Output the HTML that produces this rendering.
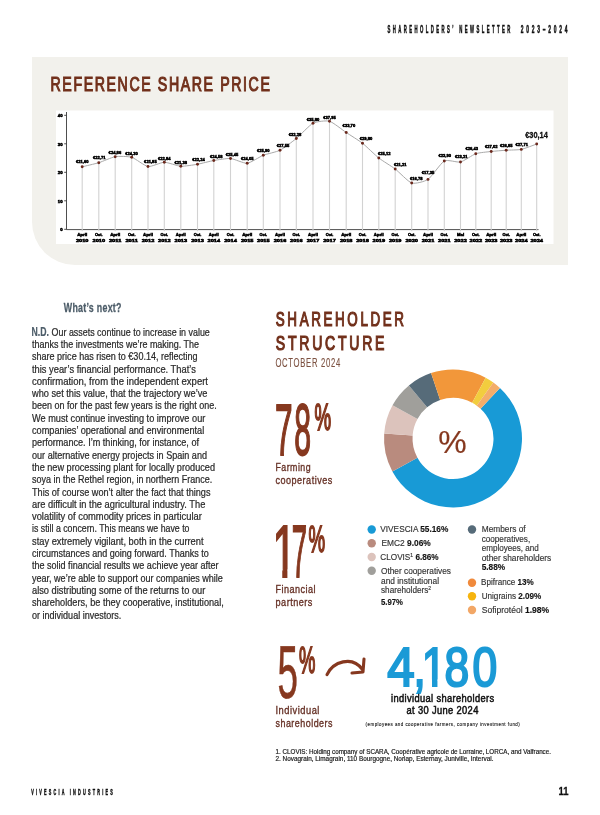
<!DOCTYPE html>
<html lang="en"><head><meta charset="utf-8"><title>Shareholders' newsletter</title>
<style>
html,body{margin:0;padding:0;background:#fff;width:600px;height:815px;overflow:hidden}
svg{display:block;font-family:"Liberation Sans",sans-serif}
.cl{font-size:4.3px;font-weight:bold;fill:#000;stroke:#000;stroke-width:.5px}
</style></head>
<body>
<svg width="600" height="815" viewBox="0 0 600 815">
<text x="387.6" y="32.6" font-size="10.6" fill="#111" font-weight="bold" textLength="125.2" lengthAdjust="spacingAndGlyphs" letter-spacing="6" stroke="#111" stroke-width="0.55">SHAREHOLDERS’ NEWSLETTER</text>
<text x="520.8" y="32.6" font-size="10.6" fill="#111" font-weight="bold" textLength="49.4" lengthAdjust="spacingAndGlyphs" letter-spacing="6" stroke="#111" stroke-width="0.55">2023–2024</text>
<path d="M32,57 H568 V265 H75 A43,43 0 0 1 32,222 Z" fill="#f2f1ec"/>
<rect x="56" y="110.5" width="497.5" height="133.5" fill="#fff"/>
<g transform="translate(50.5,91) scale(1,1.45)"><text x="0" y="0" font-size="13.4" font-weight="normal" fill="#71301b" letter-spacing="1.5" stroke="#71301b" stroke-width="0.75" textLength="221" lengthAdjust="spacingAndGlyphs">REFERENCE SHARE PRICE</text></g>
<line x1="66.5" y1="112" x2="66.5" y2="229.6" stroke="#3a3a3a" stroke-width="0.9"/>
<line x1="66.5" y1="229.6" x2="538.5" y2="229.6" stroke="#3a3a3a" stroke-width="0.9"/>
<line x1="64.2" y1="229.30" x2="66.5" y2="229.30" stroke="#3a3a3a" stroke-width="0.9"/>
<text class="cl" x="62.6" y="231.20" text-anchor="end">0</text>
<line x1="64.2" y1="200.80" x2="66.5" y2="200.80" stroke="#3a3a3a" stroke-width="0.9"/>
<text class="cl" x="62.6" y="202.70" text-anchor="end">10</text>
<line x1="64.2" y1="172.30" x2="66.5" y2="172.30" stroke="#3a3a3a" stroke-width="0.9"/>
<text class="cl" x="62.6" y="174.20" text-anchor="end">20</text>
<line x1="64.2" y1="143.80" x2="66.5" y2="143.80" stroke="#3a3a3a" stroke-width="0.9"/>
<text class="cl" x="62.6" y="145.70" text-anchor="end">30</text>
<line x1="64.2" y1="115.30" x2="66.5" y2="115.30" stroke="#3a3a3a" stroke-width="0.9"/>
<text class="cl" x="62.6" y="117.20" text-anchor="end">40</text>
<line x1="82.2" y1="166.8" x2="82.2" y2="231.3" stroke="#d2d2d2" stroke-width="1.1"/>
<line x1="98.8" y1="162.7" x2="98.8" y2="231.3" stroke="#d2d2d2" stroke-width="1.1"/>
<line x1="115.2" y1="156.7" x2="115.2" y2="231.3" stroke="#d2d2d2" stroke-width="1.1"/>
<line x1="131.7" y1="157.3" x2="131.7" y2="231.3" stroke="#d2d2d2" stroke-width="1.1"/>
<line x1="148" y1="166.5" x2="148" y2="231.3" stroke="#d2d2d2" stroke-width="1.1"/>
<line x1="164.3" y1="162.25" x2="164.3" y2="231.3" stroke="#d2d2d2" stroke-width="1.1"/>
<line x1="180.8" y1="166.25" x2="180.8" y2="231.3" stroke="#d2d2d2" stroke-width="1.1"/>
<line x1="197.5" y1="164.25" x2="197.5" y2="231.3" stroke="#d2d2d2" stroke-width="1.1"/>
<line x1="213.8" y1="160.5" x2="213.8" y2="231.3" stroke="#d2d2d2" stroke-width="1.1"/>
<line x1="230.5" y1="158.5" x2="230.5" y2="231.3" stroke="#d2d2d2" stroke-width="1.1"/>
<line x1="247.2" y1="163.25" x2="247.2" y2="231.3" stroke="#d2d2d2" stroke-width="1.1"/>
<line x1="263.3" y1="155.25" x2="263.3" y2="231.3" stroke="#d2d2d2" stroke-width="1.1"/>
<line x1="280" y1="150.25" x2="280" y2="231.3" stroke="#d2d2d2" stroke-width="1.1"/>
<line x1="296.3" y1="138.5" x2="296.3" y2="231.3" stroke="#d2d2d2" stroke-width="1.1"/>
<line x1="313" y1="123.25" x2="313" y2="231.3" stroke="#d2d2d2" stroke-width="1.1"/>
<line x1="329.5" y1="121.25" x2="329.5" y2="231.3" stroke="#d2d2d2" stroke-width="1.1"/>
<line x1="346.2" y1="132.5" x2="346.2" y2="231.3" stroke="#d2d2d2" stroke-width="1.1"/>
<line x1="362.5" y1="143.25" x2="362.5" y2="231.3" stroke="#d2d2d2" stroke-width="1.1"/>
<line x1="378.8" y1="158" x2="378.8" y2="231.3" stroke="#d2d2d2" stroke-width="1.1"/>
<line x1="395.2" y1="169" x2="395.2" y2="231.3" stroke="#d2d2d2" stroke-width="1.1"/>
<line x1="411.7" y1="183" x2="411.7" y2="231.3" stroke="#d2d2d2" stroke-width="1.1"/>
<line x1="428" y1="179.4" x2="428" y2="231.3" stroke="#d2d2d2" stroke-width="1.1"/>
<line x1="444.3" y1="161" x2="444.3" y2="231.3" stroke="#d2d2d2" stroke-width="1.1"/>
<line x1="460.5" y1="162" x2="460.5" y2="231.3" stroke="#d2d2d2" stroke-width="1.1"/>
<line x1="475.8" y1="153.7" x2="475.8" y2="231.3" stroke="#d2d2d2" stroke-width="1.1"/>
<line x1="491.2" y1="151.5" x2="491.2" y2="231.3" stroke="#d2d2d2" stroke-width="1.1"/>
<line x1="506.2" y1="150.2" x2="506.2" y2="231.3" stroke="#d2d2d2" stroke-width="1.1"/>
<line x1="521.3" y1="149.4" x2="521.3" y2="231.3" stroke="#d2d2d2" stroke-width="1.1"/>
<line x1="536.7" y1="144" x2="536.7" y2="231.3" stroke="#d2d2d2" stroke-width="1.1"/>
<path d="M82.2,166.8 C83.86,166.39 95.50,163.71 98.8,162.7 C102.10,161.69 111.91,157.24 115.2,156.7 C118.49,156.16 128.42,156.32 131.7,157.3 C134.98,158.28 144.74,166.00 148,166.5 C151.26,167.00 161.02,162.28 164.3,162.25 C167.58,162.22 177.48,166.05 180.8,166.25 C184.12,166.45 194.20,164.82 197.5,164.25 C200.80,163.68 210.50,161.07 213.8,160.5 C217.10,159.93 227.16,158.22 230.5,158.5 C233.84,158.78 243.92,163.57 247.2,163.25 C250.48,162.93 260.02,156.55 263.3,155.25 C266.58,153.95 276.70,151.93 280,150.25 C283.30,148.57 293.00,141.20 296.3,138.5 C299.60,135.80 309.68,124.97 313,123.25 C316.32,121.53 326.18,120.33 329.5,121.25 C332.82,122.17 342.90,130.30 346.2,132.5 C349.50,134.70 359.24,140.70 362.5,143.25 C365.76,145.80 375.53,155.43 378.8,158 C382.07,160.57 391.91,166.50 395.2,169 C398.49,171.50 408.42,181.96 411.7,183 C414.98,184.04 424.74,181.60 428,179.4 C431.26,177.20 441.05,162.74 444.3,161 C447.55,159.26 457.35,162.73 460.5,162 C463.65,161.27 472.73,154.75 475.8,153.7 C478.87,152.65 488.16,151.85 491.2,151.5 C494.24,151.15 503.19,150.41 506.2,150.2 C509.21,149.99 518.25,150.02 521.3,149.4 C524.35,148.78 535.16,144.54 536.7,144" fill="none" stroke="#a9a9a9" stroke-width="1"/>
<circle cx="82.2" cy="166.8" r="1.45" fill="#6b281c"/>
<circle cx="98.8" cy="162.7" r="1.45" fill="#6b281c"/>
<circle cx="115.2" cy="156.7" r="1.45" fill="#6b281c"/>
<circle cx="131.7" cy="157.3" r="1.45" fill="#6b281c"/>
<circle cx="148" cy="166.5" r="1.45" fill="#6b281c"/>
<circle cx="164.3" cy="162.25" r="1.45" fill="#6b281c"/>
<circle cx="180.8" cy="166.25" r="1.45" fill="#6b281c"/>
<circle cx="197.5" cy="164.25" r="1.45" fill="#6b281c"/>
<circle cx="213.8" cy="160.5" r="1.45" fill="#6b281c"/>
<circle cx="230.5" cy="158.5" r="1.45" fill="#6b281c"/>
<circle cx="247.2" cy="163.25" r="1.45" fill="#6b281c"/>
<circle cx="263.3" cy="155.25" r="1.45" fill="#6b281c"/>
<circle cx="280" cy="150.25" r="1.45" fill="#6b281c"/>
<circle cx="296.3" cy="138.5" r="1.45" fill="#6b281c"/>
<circle cx="313" cy="123.25" r="1.45" fill="#6b281c"/>
<circle cx="329.5" cy="121.25" r="1.45" fill="#6b281c"/>
<circle cx="346.2" cy="132.5" r="1.45" fill="#6b281c"/>
<circle cx="362.5" cy="143.25" r="1.45" fill="#6b281c"/>
<circle cx="378.8" cy="158" r="1.45" fill="#6b281c"/>
<circle cx="395.2" cy="169" r="1.45" fill="#6b281c"/>
<circle cx="411.7" cy="183" r="1.45" fill="#6b281c"/>
<circle cx="428" cy="179.4" r="1.45" fill="#6b281c"/>
<circle cx="444.3" cy="161" r="1.45" fill="#6b281c"/>
<circle cx="460.5" cy="162" r="1.45" fill="#6b281c"/>
<circle cx="475.8" cy="153.7" r="1.45" fill="#6b281c"/>
<circle cx="491.2" cy="151.5" r="1.45" fill="#6b281c"/>
<circle cx="506.2" cy="150.2" r="1.45" fill="#6b281c"/>
<circle cx="521.3" cy="149.4" r="1.45" fill="#6b281c"/>
<circle cx="536.7" cy="144" r="1.45" fill="#6b281c"/>
<text class="cl" x="82.20" y="163.25" text-anchor="middle" textLength="12.6" lengthAdjust="spacingAndGlyphs">€21,60</text>
<text class="cl" x="99.20" y="159.35" text-anchor="middle" textLength="12.6" lengthAdjust="spacingAndGlyphs">€22,71</text>
<text class="cl" x="114.90" y="153.75" text-anchor="middle" textLength="12.6" lengthAdjust="spacingAndGlyphs">€24,86</text>
<text class="cl" x="131.50" y="154.55" text-anchor="middle" textLength="12.6" lengthAdjust="spacingAndGlyphs">€24,30</text>
<text class="cl" x="150.40" y="163.25" text-anchor="middle" textLength="12.6" lengthAdjust="spacingAndGlyphs">€21,85</text>
<text class="cl" x="164.30" y="159.55" text-anchor="middle" textLength="12.6" lengthAdjust="spacingAndGlyphs">€22,84</text>
<text class="cl" x="180.80" y="163.55" text-anchor="middle" textLength="12.6" lengthAdjust="spacingAndGlyphs">€21,38</text>
<text class="cl" x="198.50" y="160.80" text-anchor="middle" textLength="12.6" lengthAdjust="spacingAndGlyphs">€22,24</text>
<text class="cl" x="216.30" y="157.80" text-anchor="middle" textLength="12.6" lengthAdjust="spacingAndGlyphs">€24,58</text>
<text class="cl" x="232.00" y="155.80" text-anchor="middle" textLength="12.6" lengthAdjust="spacingAndGlyphs">€25,45</text>
<text class="cl" x="247.20" y="159.55" text-anchor="middle" textLength="12.6" lengthAdjust="spacingAndGlyphs">€24,05</text>
<text class="cl" x="263.30" y="152.30" text-anchor="middle" textLength="12.6" lengthAdjust="spacingAndGlyphs">€25,90</text>
<text class="cl" x="283.00" y="147.05" text-anchor="middle" textLength="12.6" lengthAdjust="spacingAndGlyphs">€27,55</text>
<text class="cl" x="295.00" y="136.05" text-anchor="middle" textLength="12.6" lengthAdjust="spacingAndGlyphs">€32,28</text>
<text class="cl" x="313.00" y="120.80" text-anchor="middle" textLength="12.6" lengthAdjust="spacingAndGlyphs">€35,80</text>
<text class="cl" x="329.50" y="118.55" text-anchor="middle" textLength="12.6" lengthAdjust="spacingAndGlyphs">€37,95</text>
<text class="cl" x="348.90" y="126.55" text-anchor="middle" textLength="12.6" lengthAdjust="spacingAndGlyphs">€33,70</text>
<text class="cl" x="366.00" y="139.80" text-anchor="middle" textLength="12.6" lengthAdjust="spacingAndGlyphs">€29,80</text>
<text class="cl" x="384.30" y="154.55" text-anchor="middle" textLength="12.6" lengthAdjust="spacingAndGlyphs">€25,12</text>
<text class="cl" x="400.20" y="165.80" text-anchor="middle" textLength="12.6" lengthAdjust="spacingAndGlyphs">€21,21</text>
<text class="cl" x="416.20" y="179.55" text-anchor="middle" textLength="12.6" lengthAdjust="spacingAndGlyphs">€16,78</text>
<text class="cl" x="428.00" y="173.95" text-anchor="middle" textLength="12.6" lengthAdjust="spacingAndGlyphs">€17,35</text>
<text class="cl" x="444.80" y="156.55" text-anchor="middle" textLength="12.6" lengthAdjust="spacingAndGlyphs">€23,90</text>
<text class="cl" x="461.20" y="157.55" text-anchor="middle" textLength="12.6" lengthAdjust="spacingAndGlyphs">€23,21</text>
<text class="cl" x="471.80" y="149.65" text-anchor="middle" textLength="12.6" lengthAdjust="spacingAndGlyphs">€26,43</text>
<text class="cl" x="491.20" y="147.85" text-anchor="middle" textLength="12.6" lengthAdjust="spacingAndGlyphs">€27,02</text>
<text class="cl" x="506.20" y="146.65" text-anchor="middle" textLength="12.6" lengthAdjust="spacingAndGlyphs">€26,85</text>
<text class="cl" x="521.80" y="145.75" text-anchor="middle" textLength="12.6" lengthAdjust="spacingAndGlyphs">€27,71</text>
<text x="525.2" y="138.2" font-size="8.6" fill="#111" font-weight="bold" textLength="22.6" lengthAdjust="spacingAndGlyphs" stroke="#111" stroke-width="0.3">€30,14</text>
<text class="cl" x="82.2" y="236.4" text-anchor="middle" textLength="10" lengthAdjust="spacingAndGlyphs">April</text>
<text class="cl" x="82.2" y="242.3" text-anchor="middle" textLength="12.6" lengthAdjust="spacingAndGlyphs">2010</text>
<text class="cl" x="98.8" y="236.4" text-anchor="middle" textLength="7.6" lengthAdjust="spacingAndGlyphs">Oct.</text>
<text class="cl" x="98.8" y="242.3" text-anchor="middle" textLength="12.6" lengthAdjust="spacingAndGlyphs">2010</text>
<text class="cl" x="115.2" y="236.4" text-anchor="middle" textLength="10" lengthAdjust="spacingAndGlyphs">April</text>
<text class="cl" x="115.2" y="242.3" text-anchor="middle" textLength="12.6" lengthAdjust="spacingAndGlyphs">2011</text>
<text class="cl" x="131.7" y="236.4" text-anchor="middle" textLength="7.6" lengthAdjust="spacingAndGlyphs">Oct.</text>
<text class="cl" x="131.7" y="242.3" text-anchor="middle" textLength="12.6" lengthAdjust="spacingAndGlyphs">2011</text>
<text class="cl" x="148" y="236.4" text-anchor="middle" textLength="10" lengthAdjust="spacingAndGlyphs">April</text>
<text class="cl" x="148" y="242.3" text-anchor="middle" textLength="12.6" lengthAdjust="spacingAndGlyphs">2012</text>
<text class="cl" x="164.3" y="236.4" text-anchor="middle" textLength="7.6" lengthAdjust="spacingAndGlyphs">Oct.</text>
<text class="cl" x="164.3" y="242.3" text-anchor="middle" textLength="12.6" lengthAdjust="spacingAndGlyphs">2012</text>
<text class="cl" x="180.8" y="236.4" text-anchor="middle" textLength="10" lengthAdjust="spacingAndGlyphs">April</text>
<text class="cl" x="180.8" y="242.3" text-anchor="middle" textLength="12.6" lengthAdjust="spacingAndGlyphs">2013</text>
<text class="cl" x="197.5" y="236.4" text-anchor="middle" textLength="7.6" lengthAdjust="spacingAndGlyphs">Oct.</text>
<text class="cl" x="197.5" y="242.3" text-anchor="middle" textLength="12.6" lengthAdjust="spacingAndGlyphs">2013</text>
<text class="cl" x="213.8" y="236.4" text-anchor="middle" textLength="10" lengthAdjust="spacingAndGlyphs">April</text>
<text class="cl" x="213.8" y="242.3" text-anchor="middle" textLength="12.6" lengthAdjust="spacingAndGlyphs">2014</text>
<text class="cl" x="230.5" y="236.4" text-anchor="middle" textLength="7.6" lengthAdjust="spacingAndGlyphs">Oct.</text>
<text class="cl" x="230.5" y="242.3" text-anchor="middle" textLength="12.6" lengthAdjust="spacingAndGlyphs">2014</text>
<text class="cl" x="247.2" y="236.4" text-anchor="middle" textLength="10" lengthAdjust="spacingAndGlyphs">April</text>
<text class="cl" x="247.2" y="242.3" text-anchor="middle" textLength="12.6" lengthAdjust="spacingAndGlyphs">2015</text>
<text class="cl" x="263.3" y="236.4" text-anchor="middle" textLength="7.6" lengthAdjust="spacingAndGlyphs">Oct.</text>
<text class="cl" x="263.3" y="242.3" text-anchor="middle" textLength="12.6" lengthAdjust="spacingAndGlyphs">2015</text>
<text class="cl" x="280" y="236.4" text-anchor="middle" textLength="10" lengthAdjust="spacingAndGlyphs">April</text>
<text class="cl" x="280" y="242.3" text-anchor="middle" textLength="12.6" lengthAdjust="spacingAndGlyphs">2016</text>
<text class="cl" x="296.3" y="236.4" text-anchor="middle" textLength="7.6" lengthAdjust="spacingAndGlyphs">Oct.</text>
<text class="cl" x="296.3" y="242.3" text-anchor="middle" textLength="12.6" lengthAdjust="spacingAndGlyphs">2016</text>
<text class="cl" x="313" y="236.4" text-anchor="middle" textLength="10" lengthAdjust="spacingAndGlyphs">April</text>
<text class="cl" x="313" y="242.3" text-anchor="middle" textLength="12.6" lengthAdjust="spacingAndGlyphs">2017</text>
<text class="cl" x="329.5" y="236.4" text-anchor="middle" textLength="7.6" lengthAdjust="spacingAndGlyphs">Oct.</text>
<text class="cl" x="329.5" y="242.3" text-anchor="middle" textLength="12.6" lengthAdjust="spacingAndGlyphs">2017</text>
<text class="cl" x="346.2" y="236.4" text-anchor="middle" textLength="10" lengthAdjust="spacingAndGlyphs">April</text>
<text class="cl" x="346.2" y="242.3" text-anchor="middle" textLength="12.6" lengthAdjust="spacingAndGlyphs">2018</text>
<text class="cl" x="362.5" y="236.4" text-anchor="middle" textLength="7.6" lengthAdjust="spacingAndGlyphs">Oct.</text>
<text class="cl" x="362.5" y="242.3" text-anchor="middle" textLength="12.6" lengthAdjust="spacingAndGlyphs">2018</text>
<text class="cl" x="378.8" y="236.4" text-anchor="middle" textLength="10" lengthAdjust="spacingAndGlyphs">April</text>
<text class="cl" x="378.8" y="242.3" text-anchor="middle" textLength="12.6" lengthAdjust="spacingAndGlyphs">2019</text>
<text class="cl" x="395.2" y="236.4" text-anchor="middle" textLength="7.6" lengthAdjust="spacingAndGlyphs">Oct.</text>
<text class="cl" x="395.2" y="242.3" text-anchor="middle" textLength="12.6" lengthAdjust="spacingAndGlyphs">2019</text>
<text class="cl" x="411.7" y="236.4" text-anchor="middle" textLength="7.6" lengthAdjust="spacingAndGlyphs">Oct.</text>
<text class="cl" x="411.7" y="242.3" text-anchor="middle" textLength="12.6" lengthAdjust="spacingAndGlyphs">2020</text>
<text class="cl" x="428" y="236.4" text-anchor="middle" textLength="10" lengthAdjust="spacingAndGlyphs">April</text>
<text class="cl" x="428" y="242.3" text-anchor="middle" textLength="12.6" lengthAdjust="spacingAndGlyphs">2021</text>
<text class="cl" x="444.3" y="236.4" text-anchor="middle" textLength="7.6" lengthAdjust="spacingAndGlyphs">Oct.</text>
<text class="cl" x="444.3" y="242.3" text-anchor="middle" textLength="12.6" lengthAdjust="spacingAndGlyphs">2021</text>
<text class="cl" x="460.5" y="236.4" text-anchor="middle" textLength="7.2" lengthAdjust="spacingAndGlyphs">Mai</text>
<text class="cl" x="460.5" y="242.3" text-anchor="middle" textLength="12.6" lengthAdjust="spacingAndGlyphs">2022</text>
<text class="cl" x="475.8" y="236.4" text-anchor="middle" textLength="7.6" lengthAdjust="spacingAndGlyphs">Oct.</text>
<text class="cl" x="475.8" y="242.3" text-anchor="middle" textLength="12.6" lengthAdjust="spacingAndGlyphs">2022</text>
<text class="cl" x="491.2" y="236.4" text-anchor="middle" textLength="10" lengthAdjust="spacingAndGlyphs">April</text>
<text class="cl" x="491.2" y="242.3" text-anchor="middle" textLength="12.6" lengthAdjust="spacingAndGlyphs">2023</text>
<text class="cl" x="506.2" y="236.4" text-anchor="middle" textLength="7.6" lengthAdjust="spacingAndGlyphs">Oct.</text>
<text class="cl" x="506.2" y="242.3" text-anchor="middle" textLength="12.6" lengthAdjust="spacingAndGlyphs">2023</text>
<text class="cl" x="521.3" y="236.4" text-anchor="middle" textLength="10" lengthAdjust="spacingAndGlyphs">April</text>
<text class="cl" x="521.3" y="242.3" text-anchor="middle" textLength="12.6" lengthAdjust="spacingAndGlyphs">2024</text>
<text class="cl" x="536.7" y="236.4" text-anchor="middle" textLength="7.6" lengthAdjust="spacingAndGlyphs">Oct.</text>
<text class="cl" x="536.7" y="242.3" text-anchor="middle" textLength="12.6" lengthAdjust="spacingAndGlyphs">2024</text>
<text x="63.8" y="311.7" font-size="13.6" fill="#4d5d69" font-weight="bold" textLength="57.9" lengthAdjust="spacingAndGlyphs" stroke="#4d5d69" stroke-width="0.3" letter-spacing="0.4">What’s next?</text>
<text x="31.6" y="335.7" font-size="12.8" fill="#4d5d69" font-weight="bold" textLength="17.4" lengthAdjust="spacingAndGlyphs" stroke="#4d5d69" stroke-width="0.2">N.D.</text>
<text x="51.6" y="335.60" font-size="10.2" fill="#2a2a2a" textLength="158.2" lengthAdjust="spacingAndGlyphs" stroke="#2a2a2a" stroke-width="0.22">Our assets continue to increase in value</text>
<text x="32" y="347.90" font-size="10.2" fill="#2a2a2a" textLength="167.0" lengthAdjust="spacingAndGlyphs" stroke="#2a2a2a" stroke-width="0.22">thanks the investments we’re making. The</text>
<text x="32" y="360.20" font-size="10.2" fill="#2a2a2a" textLength="165.6" lengthAdjust="spacingAndGlyphs" stroke="#2a2a2a" stroke-width="0.22">share price has risen to €30.14, reflecting</text>
<text x="32" y="372.50" font-size="10.2" fill="#2a2a2a" textLength="163.8" lengthAdjust="spacingAndGlyphs" stroke="#2a2a2a" stroke-width="0.22">this year’s financial performance. That’s</text>
<text x="32" y="384.80" font-size="10.2" fill="#2a2a2a" textLength="176.0" lengthAdjust="spacingAndGlyphs" stroke="#2a2a2a" stroke-width="0.22">confirmation, from the independent expert</text>
<text x="32" y="397.10" font-size="10.2" fill="#2a2a2a" textLength="175.4" lengthAdjust="spacingAndGlyphs" stroke="#2a2a2a" stroke-width="0.22">who set this value, that the trajectory we’ve</text>
<text x="32" y="409.40" font-size="10.2" fill="#2a2a2a" textLength="184.8" lengthAdjust="spacingAndGlyphs" stroke="#2a2a2a" stroke-width="0.22">been on for the past few years is the right one.</text>
<text x="32" y="421.70" font-size="10.2" fill="#2a2a2a" textLength="173.3" lengthAdjust="spacingAndGlyphs" stroke="#2a2a2a" stroke-width="0.22">We must continue investing to improve our</text>
<text x="32" y="434.00" font-size="10.2" fill="#2a2a2a" textLength="172.2" lengthAdjust="spacingAndGlyphs" stroke="#2a2a2a" stroke-width="0.22">companies’ operational and environmental</text>
<text x="32" y="446.30" font-size="10.2" fill="#2a2a2a" textLength="167.0" lengthAdjust="spacingAndGlyphs" stroke="#2a2a2a" stroke-width="0.22">performance. I’m thinking, for instance, of</text>
<text x="32" y="458.60" font-size="10.2" fill="#2a2a2a" textLength="175.0" lengthAdjust="spacingAndGlyphs" stroke="#2a2a2a" stroke-width="0.22">our alternative energy projects in Spain and</text>
<text x="32" y="470.90" font-size="10.2" fill="#2a2a2a" textLength="183.0" lengthAdjust="spacingAndGlyphs" stroke="#2a2a2a" stroke-width="0.22">the new processing plant for locally produced</text>
<text x="32" y="483.20" font-size="10.2" fill="#2a2a2a" textLength="180.3" lengthAdjust="spacingAndGlyphs" stroke="#2a2a2a" stroke-width="0.22">soya in the Rethel region, in northern France.</text>
<text x="32" y="495.50" font-size="10.2" fill="#2a2a2a" textLength="178.5" lengthAdjust="spacingAndGlyphs" stroke="#2a2a2a" stroke-width="0.22">This of course won’t alter the fact that things</text>
<text x="32" y="507.80" font-size="10.2" fill="#2a2a2a" textLength="173.3" lengthAdjust="spacingAndGlyphs" stroke="#2a2a2a" stroke-width="0.22">are difficult in the agricultural industry. The</text>
<text x="32" y="520.10" font-size="10.2" fill="#2a2a2a" textLength="169.8" lengthAdjust="spacingAndGlyphs" stroke="#2a2a2a" stroke-width="0.22">volatility of commodity prices in particular</text>
<text x="32" y="532.40" font-size="10.2" fill="#2a2a2a" textLength="157.5" lengthAdjust="spacingAndGlyphs" stroke="#2a2a2a" stroke-width="0.22">is still a concern. This means we have to</text>
<text x="32" y="544.70" font-size="10.2" fill="#2a2a2a" textLength="171.5" lengthAdjust="spacingAndGlyphs" stroke="#2a2a2a" stroke-width="0.22">stay extremely vigilant, both in the current</text>
<text x="32" y="557.00" font-size="10.2" fill="#2a2a2a" textLength="176.8" lengthAdjust="spacingAndGlyphs" stroke="#2a2a2a" stroke-width="0.22">circumstances and going forward. Thanks to</text>
<text x="32" y="569.30" font-size="10.2" fill="#2a2a2a" textLength="186.6" lengthAdjust="spacingAndGlyphs" stroke="#2a2a2a" stroke-width="0.22">the solid financial results we achieve year after</text>
<text x="32" y="581.60" font-size="10.2" fill="#2a2a2a" textLength="190.8" lengthAdjust="spacingAndGlyphs" stroke="#2a2a2a" stroke-width="0.22">year, we’re able to support our companies while</text>
<text x="32" y="593.90" font-size="10.2" fill="#2a2a2a" textLength="173.3" lengthAdjust="spacingAndGlyphs" stroke="#2a2a2a" stroke-width="0.22">also distributing some of the returns to our</text>
<text x="32" y="606.20" font-size="10.2" fill="#2a2a2a" textLength="191.8" lengthAdjust="spacingAndGlyphs" stroke="#2a2a2a" stroke-width="0.22">shareholders, be they cooperative, institutional,</text>
<text x="32" y="618.50" font-size="10.2" fill="#2a2a2a" textLength="89.3" lengthAdjust="spacingAndGlyphs" stroke="#2a2a2a" stroke-width="0.22">or individual investors.</text>
<g transform="translate(275.8,326.4) scale(1,1.45)"><text x="0" y="0" font-size="13.4" font-weight="normal" fill="#71301b" letter-spacing="2.6" stroke="#71301b" stroke-width="0.8" textLength="130.8" lengthAdjust="spacingAndGlyphs">SHAREHOLDER</text></g>
<g transform="translate(275.8,349.5) scale(1,1.45)"><text x="0" y="0" font-size="13.4" font-weight="normal" fill="#71301b" letter-spacing="2.6" stroke="#71301b" stroke-width="0.8" textLength="111.4" lengthAdjust="spacingAndGlyphs">STRUCTURE</text></g>
<text x="275.4" y="366.8" font-size="13.1" fill="#7d5242" textLength="65.6" lengthAdjust="spacingAndGlyphs" letter-spacing="1.2" stroke="#7d5242" stroke-width="0.15">OCTOBER 2024</text>
<path d="M499.97,387.95 A69,69 0 1 1 392.38,471.45 L417.42,457.84 A40.5,40.5 0 1 0 480.57,408.83 Z" fill="#189ad6"/>
<path d="M392.38,471.45 A69,69 0 0 1 384.18,433.58 L412.60,435.61 A40.5,40.5 0 0 0 417.42,457.84 Z" fill="#b98b7e"/>
<path d="M384.18,433.58 A69,69 0 0 1 392.53,405.27 L417.51,419.00 A40.5,40.5 0 0 0 412.60,435.61 Z" fill="#dcc3bc"/>
<path d="M392.53,405.27 A69,69 0 0 1 408.91,385.43 L427.12,407.35 A40.5,40.5 0 0 0 417.51,419.00 Z" fill="#a09f9b"/>
<path d="M408.91,385.43 A69,69 0 0 1 431.05,373.09 L440.11,400.10 A40.5,40.5 0 0 0 427.12,407.35 Z" fill="#566b79"/>
<path d="M431.05,373.09 A69,69 0 0 1 485.66,377.72 L472.17,402.82 A40.5,40.5 0 0 0 440.11,400.10 Z" fill="#f2973a"/>
<path d="M485.66,377.72 A69,69 0 0 1 493.33,382.52 L476.67,405.64 A40.5,40.5 0 0 0 472.17,402.82 Z" fill="#f2cd3e"/>
<path d="M493.33,382.52 A69,69 0 0 1 499.97,387.95 L480.57,408.83 A40.5,40.5 0 0 0 476.67,405.64 Z" fill="#f3ad6a"/>
<text x="438.2" y="452.6" font-size="31" fill="#86381f" textLength="28.4" lengthAdjust="spacingAndGlyphs" stroke="#86381f" stroke-width="0.2">%</text>
<text y="455.2" font-size="73" fill="#86381f" stroke="#86381f" stroke-width="1.9"><tspan x="275.1" textLength="17.6" lengthAdjust="spacingAndGlyphs">7</tspan><tspan x="294.2" textLength="16.8" lengthAdjust="spacingAndGlyphs">8</tspan></text>
<text x="314.6" y="429.6" font-size="36" fill="#86381f" textLength="16.6" lengthAdjust="spacingAndGlyphs" stroke="#86381f" stroke-width="1.9">%</text>
<text x="275.5" y="471.4" font-size="11.2" fill="#663126" textLength="35.6" lengthAdjust="spacingAndGlyphs" stroke="#663126" stroke-width="0.35" letter-spacing="0.6">Farming</text>
<text x="275.5" y="484.3" font-size="11.2" fill="#663126" textLength="57.2" lengthAdjust="spacingAndGlyphs" stroke="#663126" stroke-width="0.35" letter-spacing="0.6">cooperatives</text>
<text y="576.8" font-size="74" fill="#86381f" stroke="#86381f" stroke-width="1.9"><tspan x="272.55" textLength="23.7" lengthAdjust="spacingAndGlyphs">1</tspan><tspan x="291.7" textLength="15.3" lengthAdjust="spacingAndGlyphs">7</tspan></text>
<path d="M274.5,569.5h7.75v8.8h-7.75zM287.4,569.5h7.6v8.8h-7.6z" fill="#fff"/>
<text x="308.6" y="551.6" font-size="37" fill="#86381f" textLength="16.6" lengthAdjust="spacingAndGlyphs" stroke="#86381f" stroke-width="1.9">%</text>
<text x="275.5" y="592.8" font-size="11.2" fill="#663126" textLength="40.5" lengthAdjust="spacingAndGlyphs" stroke="#663126" stroke-width="0.35" letter-spacing="0.6">Financial</text>
<text x="275.5" y="605.7" font-size="11.2" fill="#663126" textLength="37.4" lengthAdjust="spacingAndGlyphs" stroke="#663126" stroke-width="0.35" letter-spacing="0.6">partners</text>
<text x="277.6" y="698.4" font-size="74" fill="#86381f" textLength="20.4" lengthAdjust="spacingAndGlyphs" stroke="#86381f" stroke-width="0.7">5</text>
<text x="299" y="672.8" font-size="37" fill="#86381f" textLength="16.4" lengthAdjust="spacingAndGlyphs" stroke="#86381f" stroke-width="1.9">%</text>
<text x="275.5" y="714" font-size="11.2" fill="#663126" textLength="44.4" lengthAdjust="spacingAndGlyphs" stroke="#663126" stroke-width="0.35" letter-spacing="0.6">Individual</text>
<text x="275.5" y="726.6" font-size="11.2" fill="#663126" textLength="57.5" lengthAdjust="spacingAndGlyphs" stroke="#663126" stroke-width="0.35" letter-spacing="0.6">shareholders</text>
<path d="M327,674.6 C333,662 352,655 362.5,669.5" fill="none" stroke="#86381f" stroke-width="3.1" stroke-linecap="round"/>
<path d="M364,659 L363,672 L352,673" fill="none" stroke="#86381f" stroke-width="3.1" stroke-linecap="round" stroke-linejoin="round"/>
<text y="686.4" font-size="54.6" fill="#1b9ad6" stroke="#1b9ad6" stroke-width="2.2"><tspan x="387.2" textLength="27.4" lengthAdjust="spacingAndGlyphs">4</tspan><tspan x="413.4" textLength="12.2" lengthAdjust="spacingAndGlyphs">,</tspan><tspan x="421.8" textLength="24.5" lengthAdjust="spacingAndGlyphs">1</tspan><tspan x="444.4" textLength="24.7" lengthAdjust="spacingAndGlyphs">8</tspan><tspan x="472.4" textLength="24.7" lengthAdjust="spacingAndGlyphs">0</tspan></text>
<path d="M423,679.4h9.0v8.8h-9.0zM437.45,679.4h7.7v8.8h-7.7z" fill="#fff"/>
<text x="391" y="701.9" font-size="10.4" fill="#111" textLength="103.6" lengthAdjust="spacingAndGlyphs" stroke="#111" stroke-width="0.5" letter-spacing="0.4">individual shareholders</text>
<text x="406.5" y="714.1" font-size="10.4" fill="#111" textLength="72.2" lengthAdjust="spacingAndGlyphs" stroke="#111" stroke-width="0.5" letter-spacing="0.4">at 30 June 2024</text>
<text x="365.6" y="726.2" font-size="5.6" fill="#222" textLength="154.6" lengthAdjust="spacingAndGlyphs" stroke="#222" stroke-width="0.15" letter-spacing="0.6">(employees and cooperative farmers, company investment fund)</text>
<circle cx="371.7" cy="529.5" r="4.2" fill="#189ad6"/>
<text x="380.3" y="532.2" font-size="8.2" fill="#333" textLength="68" lengthAdjust="spacingAndGlyphs" stroke="#333" stroke-width="0.15">VIVESCIA <tspan font-weight="bold" fill="#111">55.16%</tspan></text>
<circle cx="371.7" cy="543.3" r="4.2" fill="#b98b7e"/>
<text x="381.5" y="545.8" font-size="8.2" fill="#333" textLength="49.3" lengthAdjust="spacingAndGlyphs" stroke="#333" stroke-width="0.15">EMC2 <tspan font-weight="bold" fill="#111">9.06%</tspan></text>
<circle cx="371.7" cy="557" r="4.2" fill="#dcc3bc"/>
<text x="380.3" y="559.7" font-size="8.2" fill="#333" stroke="#333" stroke-width="0.15">CLOVIS<tspan font-size="5" dy="-3">1</tspan> <tspan dy="3" font-weight="bold" fill="#111">6.86%</tspan></text>
<circle cx="371.7" cy="570.8" r="4.2" fill="#a09f9b"/>
<text x="381" y="573.8" font-size="8.2" fill="#333" textLength="70" lengthAdjust="spacingAndGlyphs" stroke="#333" stroke-width="0.15">Other cooperatives</text>
<text x="381" y="583.6" font-size="8.2" fill="#333" textLength="58" lengthAdjust="spacingAndGlyphs" stroke="#333" stroke-width="0.15">and institutional</text>
<text x="381" y="593.2" font-size="8.2" fill="#333" stroke="#333" stroke-width="0.15">shareholders<tspan font-size="5" dy="-3">2</tspan></text>
<text x="381" y="604.7" font-size="8.2" fill="#111" font-weight="bold" textLength="22" lengthAdjust="spacingAndGlyphs" stroke="#333" stroke-width="0.15">5.97%</text>
<circle cx="472" cy="529.5" r="4.2" fill="#566b79"/>
<text x="481.7" y="532.2" font-size="8.2" fill="#333" textLength="44" lengthAdjust="spacingAndGlyphs" stroke="#333" stroke-width="0.15">Members of</text>
<text x="481.7" y="541.6" font-size="8.2" fill="#333" textLength="48.5" lengthAdjust="spacingAndGlyphs" stroke="#333" stroke-width="0.15">cooperatives,</text>
<text x="481.7" y="551" font-size="8.2" fill="#333" textLength="57" lengthAdjust="spacingAndGlyphs" stroke="#333" stroke-width="0.15">employees, and</text>
<text x="481.7" y="560.5" font-size="8.2" fill="#333" textLength="69.6" lengthAdjust="spacingAndGlyphs" stroke="#333" stroke-width="0.15">other shareholders</text>
<text x="481.7" y="569.9" font-size="8.2" fill="#111" font-weight="bold" textLength="23.5" lengthAdjust="spacingAndGlyphs" stroke="#333" stroke-width="0.15">5.88%</text>
<circle cx="472" cy="582.8" r="4.2" fill="#f08a3c"/>
<text x="481" y="585.3" font-size="8.2" fill="#333" textLength="52.7" lengthAdjust="spacingAndGlyphs" stroke="#333" stroke-width="0.15">Bpifrance <tspan font-weight="bold" fill="#111">13%</tspan></text>
<circle cx="472" cy="596.2" r="4.2" fill="#f6b40e"/>
<text x="481.7" y="598.8" font-size="8.2" fill="#333" textLength="59.6" lengthAdjust="spacingAndGlyphs" stroke="#333" stroke-width="0.15">Unigrains <tspan font-weight="bold" fill="#111">2.09%</tspan></text>
<circle cx="472" cy="610" r="4.2" fill="#f2a766"/>
<text x="481.7" y="612.8" font-size="8.2" fill="#333" textLength="67.5" lengthAdjust="spacingAndGlyphs" stroke="#333" stroke-width="0.15">Sofiprotéol <tspan font-weight="bold" fill="#111">1.98%</tspan></text>
<text x="275.5" y="753.8" font-size="6.3" fill="#1a1a1a" textLength="275.5" lengthAdjust="spacingAndGlyphs" stroke="#1a1a1a" stroke-width="0.18">1. CLOVIS: Holding company of SCARA, Coopérative agricole de Lorraine, LORCA, and Valfrance.</text>
<text x="275.5" y="761.3" font-size="6.3" fill="#1a1a1a" textLength="218" lengthAdjust="spacingAndGlyphs" stroke="#1a1a1a" stroke-width="0.18">2. Novagrain, Limagrain, 110 Bourgogne, Noriap, Esternay, Juniville, Interval.</text>
<text x="31.2" y="795" font-size="8.6" fill="#111" font-weight="bold" textLength="83.8" lengthAdjust="spacingAndGlyphs" letter-spacing="5" stroke="#111" stroke-width="0.5">VIVESCIA INDUSTRIES</text>
<text x="558.4" y="794.7" font-size="11.8" fill="#111" font-weight="bold" textLength="10" lengthAdjust="spacingAndGlyphs" stroke="#111" stroke-width="0.3">11</text>
</svg>
</body></html>
